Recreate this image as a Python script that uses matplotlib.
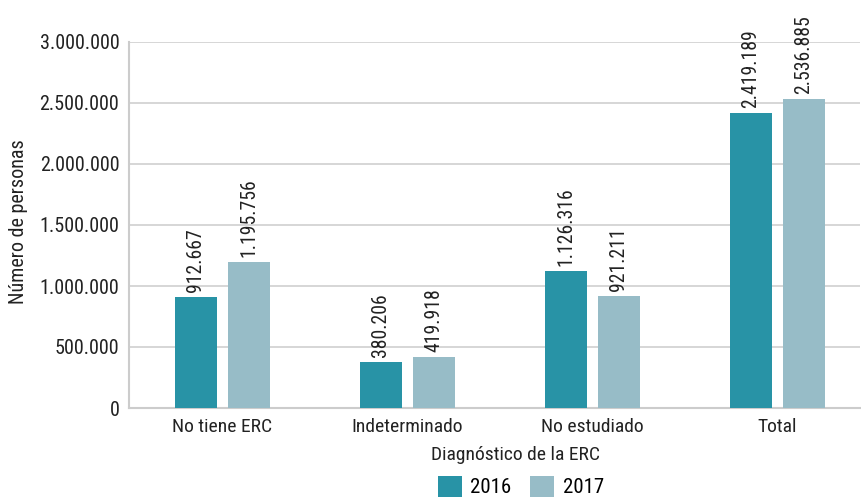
import matplotlib
matplotlib.use("Agg")
import matplotlib.pyplot as plt
import numpy as np

plt.rcParams['font.family'] = ['Roboto Condensed', 'DejaVu Sans']
plt.rcParams['font.stretch'] = 'condensed'

categories = ["No tiene ERC", "Indeterminado", "No estudiado", "Total"]
years = ["2016", "2017"]
values_2016 = [912667, 380206, 1126316, 2419189]
values_2017 = [1195756, 419918, 921211, 2536885]
colors = ["#2893a6", "#97bcc7"]


def fmt(v):
    return f"{v:,}".replace(",", ".")


fig = plt.figure(figsize=(8.62, 5.01), dpi=100)
ax = fig.add_axes([129 / 862, 1 - 408 / 501, 731 / 862, 366 / 501])

x = np.arange(len(categories))
w = 0.227
off = 0.143
for vals, c, lab, d in [(values_2016, colors[0], years[0], -off), (values_2017, colors[1], years[1], off)]:
    bars = ax.bar(x + d, vals, width=w, color=c, label=lab, zorder=3)
    for b, v in zip(bars, vals):
        ax.text(b.get_x() + b.get_width() / 2, v + 40000, fmt(v), rotation=90,
                ha="center", va="bottom", fontsize=14.2, color="#222222")

ax.set_ylim(0, 3000000)
ax.set_xlim(-0.505, 3.446)
yt = np.arange(0, 3000001, 500000)
ax.set_yticks(yt)
ax.set_yticklabels([fmt(v) for v in yt], fontsize=14.5, color="#222222")
ax.set_xticks(x)
ax.set_xticklabels(categories, fontsize=14, color="#222222")
ax.tick_params(length=0, pad=7)
ax.grid(axis="y", color="#d0d0d0", linewidth=1.2, zorder=0)
for s in ["top", "right"]:
    ax.spines[s].set_visible(False)
for s in ["left", "bottom"]:
    ax.spines[s].set_color("#cccccc")
    ax.spines[s].set_linewidth(1.5)

ax.set_ylabel("Número de personas", fontsize=14.5, color="#222222")
ax.yaxis.set_label_coords(-0.138, 0.51)
ax.set_xlabel("Diagnóstico de la ERC", fontsize=14, color="#222222")
ax.xaxis.set_label_coords(0.529, -0.105)

fig.legend(loc="upper left", bbox_to_anchor=(438 / 862, 1 - 476 / 501), ncol=2, frameon=False,
           fontsize=15, handlelength=1.15, handleheight=1.15, columnspacing=0.9,
           handletextpad=0.4, borderpad=0, borderaxespad=0)

fig.savefig("out.png", dpi=100)
